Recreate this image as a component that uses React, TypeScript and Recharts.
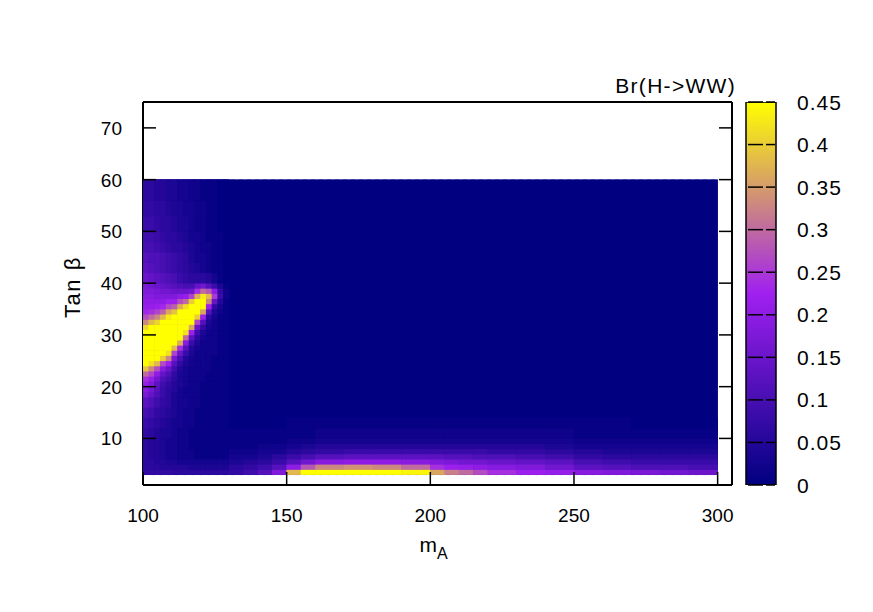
import React from "react";
import {
  ScatterChart,
  Scatter,
  XAxis,
  YAxis,
  ReferenceLine,
  BarChart,
  Bar,
} from "recharts";

// axis ranges and ticks
const MA_RANGE: [number, number] = [100, 305];
const TANB_RANGE: [number, number] = [1, 75];
const MA_TICKS = [100, 150, 200, 250, 300];
const TANB_TICKS = [10, 20, 30, 40, 50, 60, 70];
const BR_TICKS = [0, 0.05, 0.1, 0.15, 0.2, 0.25, 0.3, 0.35, 0.4, 0.45];
const BR_RANGE: [number, number] = [0, 0.45];

// scanned region of the (mA, tan beta) plane
const SCAN_MA: [number, number] = [100, 300];
const SCAN_TANB: [number, number] = [3, 60];

// palette: navy -> purple -> yellow
const PALETTE_VALUES = [0, 0.225, 0.45];
const PALETTE_COLORS = ["#000080", "#a020f0", "#ffff00"];

// low-mA block, Br in percent, rows from bottom to top
const MA_EDGES_LEFT = [100, 102, 104, 106, 108, 110, 112, 114, 116, 118, 120, 122, 124, 126, 128, 130];
const TANB_EDGES_LEFT = [
  3, 4, 5, 6, 8, 10, 12, 14, 16, 18, 19, 20, 21, 22, 23, 24, 25, 26, 27, 28, 29, 30,
  31, 32, 33, 34, 35, 36, 37, 38, 39, 40, 42, 44, 46, 48, 50, 53, 56, 60,
];
const BR_LEFT = [
  [7, 7, 7, 7, 7, 6, 6, 6, 6, 6, 6, 6, 6, 6, 6],
  [6, 6, 6, 5, 5, 5, 5, 5, 4, 4, 4, 4, 4, 4, 4],
  [6, 6, 5, 5, 4, 4, 3, 3, 3, 3, 3, 3, 3, 3, 3],
  [6, 5, 5, 4, 3, 3, 2, 2, 2, 1, 1, 1, 1, 1, 1],
  [6, 5, 5, 4, 3, 3, 2, 2, 1, 1, 1, 1, 1, 1, 1],
  [7, 6, 5, 4, 4, 3, 2, 2, 1, 1, 1, 1, 1, 1, 1],
  [8, 7, 6, 5, 4, 3, 3, 2, 2, 1, 1, 1, 1, 1, 1],
  [10, 9, 7, 6, 5, 4, 3, 2, 2, 1, 1, 1, 1, 1, 1],
  [13, 11, 9, 7, 6, 4, 3, 3, 2, 2, 1, 1, 1, 1, 1],
  [17, 14, 11, 8, 6, 4, 3, 2, 2, 2, 1, 1, 1, 1, 1],
  [19, 16, 12, 8, 6, 5, 3, 2, 2, 2, 1, 1, 1, 1, 1],
  [21, 18, 13, 9, 7, 5, 4, 3, 2, 2, 1, 1, 1, 1, 1],
  [24, 21, 16, 11, 9, 6, 4, 3, 2, 2, 2, 1, 1, 1, 1],
  [30, 26, 20, 14, 11, 7, 4, 3, 2, 2, 2, 1, 1, 1, 1],
  [39, 33, 27, 19, 15, 9, 5, 3, 2, 2, 2, 2, 1, 1, 1],
  [45, 42, 38, 27, 22, 12, 7, 4, 3, 2, 2, 2, 1, 1, 1],
  [45, 45, 45, 40, 33, 17, 10, 5, 3, 2, 2, 2, 1, 1, 1],
  [45, 45, 45, 45, 42, 26, 15, 8, 4, 2, 2, 2, 2, 1, 1],
  [45, 45, 45, 45, 45, 38, 24, 12, 5, 3, 2, 2, 2, 1, 1],
  [45, 45, 45, 45, 45, 45, 37, 19, 8, 4, 2, 2, 2, 1, 1],
  [45, 45, 45, 45, 45, 45, 45, 30, 13, 6, 3, 2, 2, 1, 1],
  [45, 45, 45, 45, 45, 45, 45, 42, 22, 9, 4, 2, 2, 1, 1],
  [41, 45, 45, 45, 45, 45, 45, 45, 36, 15, 7, 3, 2, 1, 1],
  [33, 38, 41, 45, 45, 45, 45, 45, 45, 26, 12, 4, 2, 1, 1],
  [27, 30, 33, 38, 43, 45, 45, 45, 45, 40, 22, 6, 3, 1, 1],
  [23, 24, 26, 29, 36, 39, 45, 45, 45, 45, 36, 12, 4, 2, 1],
  [21, 21, 22, 23, 27, 29, 37, 42, 45, 45, 45, 22, 7, 3, 1],
  [20, 20, 20, 20, 22, 22, 27, 30, 40, 45, 45, 33, 14, 5, 1],
  [19, 19, 18, 18, 18, 18, 20, 21, 26, 37, 43, 38, 25, 8, 2],
  [18, 18, 17, 16, 16, 15, 15, 15, 16, 24, 30, 28, 20, 7, 2],
  [17, 16, 15, 14, 13, 12, 11, 10, 10, 14, 16, 12, 8, 4, 1],
  [15, 14, 13, 12, 11, 10, 8, 7, 6, 6, 6, 5, 3, 1, 0],
  [13, 12, 11, 10, 9, 8, 7, 6, 5, 4, 3, 2, 1, 1, 0],
  [12, 11, 11, 10, 9, 8, 7, 6, 4, 3, 3, 2, 1, 1, 0],
  [10, 10, 9, 8, 7, 6, 6, 5, 4, 3, 2, 2, 1, 1, 0],
  [9, 9, 8, 7, 6, 6, 5, 4, 3, 3, 2, 1, 1, 1, 0],
  [8, 8, 7, 6, 6, 5, 4, 4, 3, 2, 2, 1, 1, 0, 0],
  [7, 7, 6, 6, 5, 4, 4, 3, 3, 2, 2, 1, 1, 0, 0],
  [6, 6, 5, 5, 4, 4, 3, 3, 2, 2, 1, 1, 1, 0, 0],
];

// low-tan-beta strip, Br in percent, rows from bottom to top
const MA_EDGES_RIGHT = [
  130, 135, 140, 145, 150, 155, 160, 170, 180, 190, 200, 205, 210, 215, 220, 230, 240, 250,
  260, 270, 280, 290, 300,
];
const TANB_EDGES_RIGHT = [3, 4, 5, 6, 7, 8, 9, 10, 12, 14];
const BR_RIGHT = [
  [7, 9, 12, 18, 38, 45, 45, 45, 45, 44, 36, 32, 30, 27, 24, 22, 21, 19, 18, 17, 16, 15],
  [6, 7, 9, 12, 20, 28, 33, 34, 33, 30, 24, 22, 21, 20, 19, 18, 16, 13, 12, 11, 11, 10],
  [4, 5, 6, 8, 12, 16, 19, 20, 20, 19, 18, 17, 16, 16, 15, 14, 13, 10, 9, 8, 8, 8],
  [3, 3, 4, 6, 8, 10, 12, 13, 13, 13, 13, 12, 12, 11, 11, 10, 9, 7, 6, 6, 6, 6],
  [2, 2, 3, 3, 5, 6, 7, 8, 8, 8, 8, 8, 8, 8, 7, 7, 6, 5, 4, 4, 4, 4],
  [1, 1, 2, 2, 3, 4, 5, 5, 5, 5, 5, 5, 5, 5, 5, 5, 4, 3, 3, 3, 3, 3],
  [1, 1, 1, 1, 2, 2, 3, 3, 3, 3, 3, 3, 3, 3, 3, 3, 3, 2, 2, 2, 2, 2],
  [1, 1, 1, 1, 1, 1, 2, 2, 2, 2, 2, 2, 2, 2, 2, 2, 2, 1, 1, 1, 1, 1],
  [0, 0, 0, 0, 1, 1, 1, 1, 1, 1, 1, 1, 1, 1, 1, 1, 1, 1, 1, 0, 0, 0],
];

// layout
const W = 873;
const H = 612;
const PLOT = { left: 143, top: 102, right: 732, bottom: 485 };
const PX_PER_MA = (PLOT.right - PLOT.left) / (MA_RANGE[1] - MA_RANGE[0]);
const PX_PER_TANB = (PLOT.bottom - PLOT.top) / (TANB_RANGE[1] - TANB_RANGE[0]);
const FONT = "'Liberation Sans', Arial, Helvetica, sans-serif";
const FS = 19;

const hex = (c: string) => [1, 3, 5].map((i) => parseInt(c.slice(i, i + 2), 16));

function brColor(v: number) {
  const last = PALETTE_VALUES.length - 1;
  const x = Math.max(PALETTE_VALUES[0], Math.min(v, PALETTE_VALUES[last]));
  let i = 0;
  while (i < last - 1 && x > PALETTE_VALUES[i + 1]) i++;
  const t = (x - PALETTE_VALUES[i]) / (PALETTE_VALUES[i + 1] - PALETTE_VALUES[i]);
  const a = hex(PALETTE_COLORS[i]);
  const b = hex(PALETTE_COLORS[i + 1]);
  const rgb = a.map((c, k) => Math.round(c + (b[k] - c) * t));
  return `rgb(${rgb[0]},${rgb[1]},${rgb[2]})`;
}

type Cell = { x: number; y: number; w: number; h: number; color: string };

function buildCells(xEdges: number[], yEdges: number[], rows: number[][]): Cell[] {
  const out: Cell[] = [];
  rows.forEach((row, j) => {
    row.forEach((pct, i) => {
      out.push({
        x: (xEdges[i] + xEdges[i + 1]) / 2,
        y: (yEdges[j] + yEdges[j + 1]) / 2,
        w: xEdges[i + 1] - xEdges[i],
        h: yEdges[j + 1] - yEdges[j],
        color: brColor(pct / 100),
      });
    });
  });
  return out;
}

const cells: Cell[] = [
  {
    x: (SCAN_MA[0] + SCAN_MA[1]) / 2,
    y: (SCAN_TANB[0] + SCAN_TANB[1]) / 2,
    w: SCAN_MA[1] - SCAN_MA[0],
    h: SCAN_TANB[1] - SCAN_TANB[0],
    color: brColor(0),
  },
  ...buildCells(MA_EDGES_LEFT, TANB_EDGES_LEFT, BR_LEFT),
  ...buildCells(MA_EDGES_RIGHT, TANB_EDGES_RIGHT, BR_RIGHT),
];

const renderCell = (props: any) => {
  const { cx, cy, payload } = props;
  const w = payload.w * PX_PER_MA + 0.6;
  const h = payload.h * PX_PER_TANB + 0.6;
  return <rect x={cx - w / 2} y={cy - h / 2} width={w} height={h} fill={payload.color} />;
};

const BottomTick = (props: any) => {
  const { x, y, payload } = props;
  return (
    <g>
      <line x1={x} x2={x} y1={y} y2={y - 13} stroke="#000" strokeWidth={1.5} />
      <text x={x} y={y + 37} textAnchor="middle" fontFamily={FONT} fontSize={FS} fill="#000">
        {payload.value}
      </text>
    </g>
  );
};

const TopTick = (props: any) => {
  const { x, y } = props;
  return <line x1={x} x2={x} y1={y} y2={y + 12} stroke="#000" strokeWidth={1.5} />;
};

const LeftTick = (props: any) => {
  const { x, y, payload } = props;
  return (
    <g>
      <line x1={x} x2={x + 13} y1={y} y2={y} stroke="#000" strokeWidth={1.5} />
      <text x={x - 21} y={y + 7} textAnchor="end" fontFamily={FONT} fontSize={FS} fill="#000">
        {payload.value}
      </text>
    </g>
  );
};

const RightTick = (props: any) => {
  const { x, y } = props;
  return <line x1={x} x2={x - 13} y1={y} y2={y} stroke="#000" strokeWidth={1.5} />;
};

const BarTick = (props: any) => {
  const { x, y, payload } = props;
  return (
    <g>
      <line x1={x - 28} x2={x - 13} y1={y} y2={y} stroke="#000" strokeWidth={1.5} />
      <line x1={x - 10} x2={x - 1} y1={y} y2={y} stroke="#000" strokeWidth={1.5} />
      <text
        x={x + 21}
        y={y + 7.5}
        textAnchor="start"
        fontFamily={FONT}
        fontSize={21}
        letterSpacing={1}
        fill="#000"
      >
        {payload.value}
      </text>
    </g>
  );
};

const axisLine = { stroke: "#000", strokeWidth: 2 };
const COLORBAR_DATA = [{ name: "Br", v: BR_RANGE[1] }];

export default function App() {
  return (
    <div
      style={{
        position: "absolute",
        left: 0,
        top: 0,
        width: W,
        height: H,
        background: "#fff",
        fontFamily: FONT,
      }}
    >
      <div style={{ position: "absolute", left: 0, top: 0 }}>
        <ScatterChart
          width={W}
          height={H}
          margin={{ top: PLOT.top - 1, right: W - PLOT.right - 1, bottom: H - PLOT.bottom - 60, left: PLOT.left - 60 }}
        >
          <XAxis
            xAxisId="b"
            type="number"
            dataKey="x"
            domain={MA_RANGE}
            ticks={MA_TICKS}
            allowDataOverflow
            height={60}
            tickSize={0}
            tickMargin={0}
            tickLine={false}
            axisLine={axisLine}
            tick={<BottomTick />}
            label={{
              content: () => (
                <text x={(PLOT.left + PLOT.right) / 2 - 4} y={552} textAnchor="middle" fontFamily={FONT} fontSize={21} fill="#000">
                  m<tspan dy={7} fontSize={16}>A</tspan>
                </text>
              ),
            }}
          />
          <XAxis
            xAxisId="t"
            orientation="top"
            type="number"
            domain={MA_RANGE}
            ticks={MA_TICKS}
            allowDataOverflow
            height={1}
            tickSize={0}
            tickMargin={0}
            tickLine={false}
            axisLine={axisLine}
            tick={<TopTick />}
            label={{
              content: () => (
                <text
                  x={PLOT.right + 4}
                  y={93}
                  textAnchor="end"
                  fontFamily={FONT}
                  fontSize={21}
                  letterSpacing={1.3}
                  fill="#000"
                >
                  Br(H-&gt;WW)
                </text>
              ),
            }}
          />
          <YAxis
            yAxisId="l"
            type="number"
            dataKey="y"
            domain={TANB_RANGE}
            ticks={TANB_TICKS}
            allowDataOverflow
            width={60}
            tickSize={0}
            tickMargin={0}
            tickLine={false}
            axisLine={axisLine}
            tick={<LeftTick />}
            label={{
              content: () => (
                <text
                  x={80}
                  y={287}
                  transform="rotate(-90 80 287)"
                  textAnchor="middle"
                  fontFamily={FONT}
                  fontSize={22}
                  letterSpacing={1.5}
                  fill="#000"
                >
                  Tan β
                </text>
              ),
            }}
          />
          <YAxis
            yAxisId="r"
            orientation="right"
            type="number"
            domain={TANB_RANGE}
            ticks={TANB_TICKS}
            allowDataOverflow
            width={1}
            tickSize={0}
            tickMargin={0}
            tickLine={false}
            axisLine={axisLine}
            tick={<RightTick />}
          />
          <Scatter
            data={cells}
            xAxisId="b"
            yAxisId="l"
            shape={renderCell}
            isAnimationActive={false}
          />
          {SCAN_TANB.map((t) => (
            <ReferenceLine
              key={t}
              xAxisId="b"
              yAxisId="l"
              segment={[
                { x: SCAN_MA[0], y: t },
                { x: SCAN_MA[1], y: t },
              ]}
              stroke="#8c7fe0"
              strokeOpacity={0.7}
              strokeDasharray="4 4"
            />
          ))}
        </ScatterChart>
      </div>
      <div style={{ position: "absolute", left: 700, top: 0 }}>
        <BarChart
          width={173}
          height={H}
          data={COLORBAR_DATA}
          margin={{ top: PLOT.top, right: 0, bottom: H - PLOT.bottom, left: 46 }}
          barCategoryGap={0}
        >
          <defs>
            <linearGradient id="brGrad" x1="0" y1="1" x2="0" y2="0">
              {PALETTE_VALUES.map((v, i) => (
                <stop key={v} offset={`${(v / BR_RANGE[1]) * 100}%`} stopColor={PALETTE_COLORS[i]} />
              ))}
            </linearGradient>
          </defs>
          <XAxis dataKey="name" hide />
          <YAxis
            orientation="right"
            type="number"
            domain={BR_RANGE}
            ticks={BR_TICKS}
            allowDataOverflow
            width={97}
            tickSize={0}
            tickMargin={0}
            tickLine={false}
            axisLine={false}
            tick={<BarTick />}
          />
          <Bar dataKey="v" fill="url(#brGrad)" stroke="#000" strokeWidth={1.5} isAnimationActive={false} />
        </BarChart>
      </div>
    </div>
  );
}
